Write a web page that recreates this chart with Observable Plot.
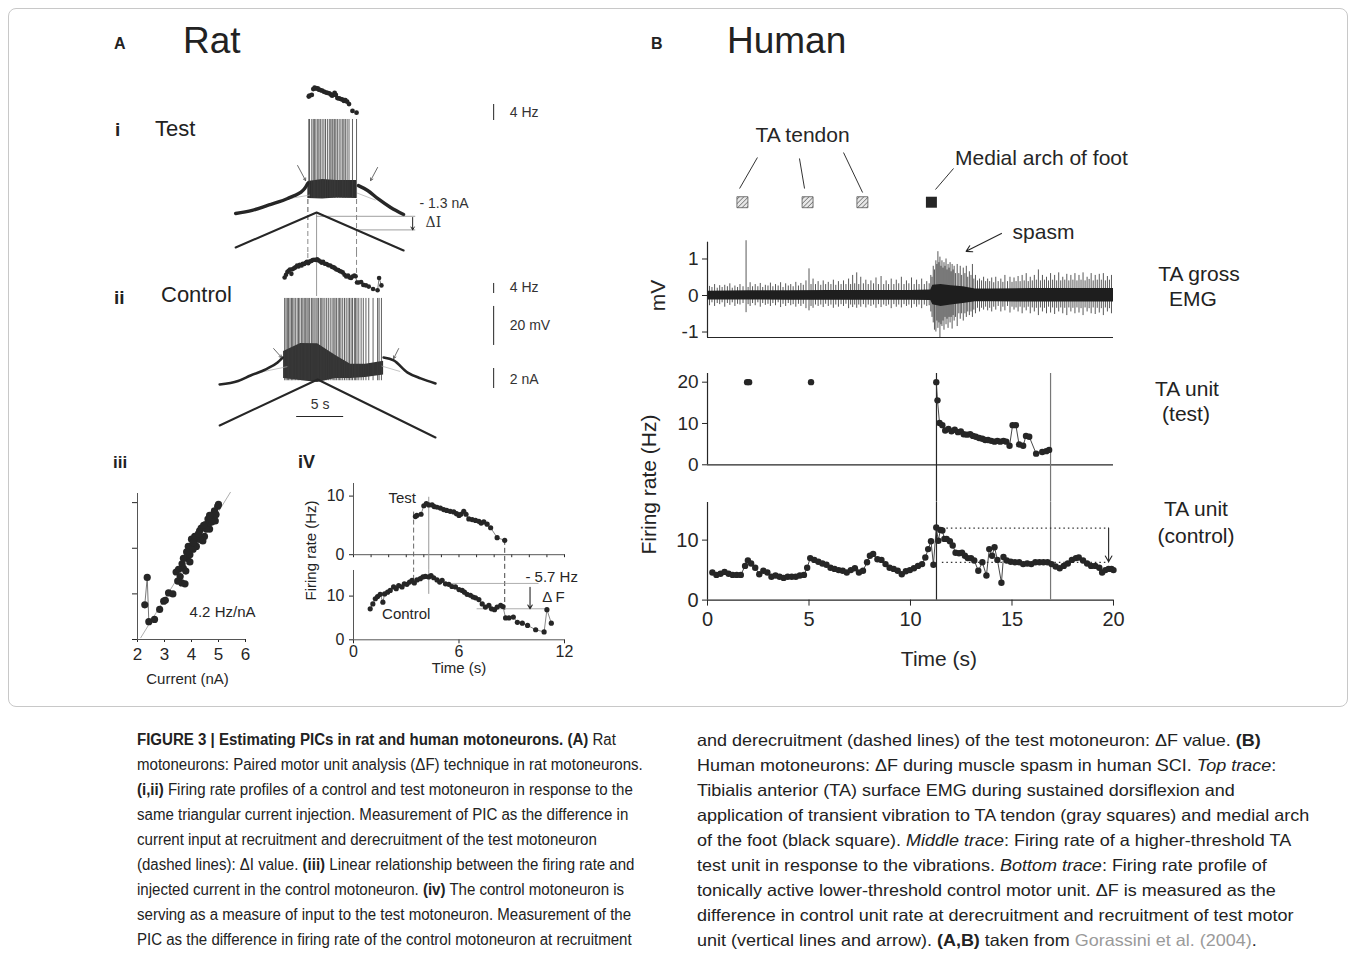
<!DOCTYPE html>
<html><head><meta charset="utf-8">
<script src="https://cdn.jsdelivr.net/npm/d3@7"></script>
<script src="https://cdn.jsdelivr.net/npm/@observablehq/plot@0.6"></script>
<style>
html,body{margin:0;padding:0;background:#fff;}
#fig{position:relative;width:1355px;height:959px;overflow:hidden;font-family:"Liberation Sans",Arial,Helvetica,sans-serif;color:#222;}
.t{position:absolute;white-space:nowrap;line-height:1;}
.cap{position:absolute;white-space:nowrap;line-height:16px;transform-origin:0 0;color:#222;}
.capL{font-size:16px;transform:scaleX(0.94);}
.capR{font-size:16.5px;transform:scaleX(1.09);}
.frame{position:absolute;left:8px;top:8px;width:1338px;height:697px;border:1px solid #c8c8c8;border-radius:8px;}
</style></head>
<body>
<svg width="0" height="0" style="position:absolute"><defs>
<pattern id="hatch" patternUnits="userSpaceOnUse" width="3.2" height="3.2" patternTransform="rotate(45)">
<rect width="3.2" height="3.2" fill="#e8e8e8"/><line x1="0" y1="0" x2="0" y2="3.2" stroke="#555" stroke-width="1.2"/></pattern></defs></svg>
<div id="fig"><div class="frame"></div></div>
<script>
// ================= DATA =================
// Panel A – rat. Instantaneous firing rates [time s, Hz]
const ratTestRate = [[3.52,6.5],[3.6,6.7],[3.84,6.9],[4.0,8.35],[4.14,8.7],[4.28,8.5],[4.47,8.5],[4.6,8.2],[4.75,8.1],[4.94,7.95],[5.13,7.7],[5.3,7.55],[5.5,7.4],[5.7,7.3],[5.86,7.0],[6.0,6.7],[6.1,6.9],[6.27,7.4],[6.4,6.9],[6.56,6.1],[6.75,6.0],[6.94,5.85],[7.13,5.7],[7.26,5.4],[7.41,5.6],[7.6,5.2],[7.8,4.6],[8.17,2.9],[8.6,2.45]];
const ratControlRate = [[0.95,7.1],[1.1,8.2],[1.24,9.4],[1.37,9.9],[1.52,10.4],[1.67,8.6],[1.77,10.5],[1.94,10.9],[2.09,11.3],[2.28,12.1],[2.43,11.7],[2.57,12.4],[2.76,12.1],[2.89,12.8],[3.04,12.7],[3.19,13.2],[3.33,13.6],[3.46,13.0],[3.61,13.7],[3.8,14.0],[3.95,14.4],[4.09,14.5],[4.28,14.4],[4.41,14.7],[4.56,14.2],[4.75,13.7],[4.9,13.2],[5.04,13.6],[5.23,12.8],[5.42,12.7],[5.6,12.2],[5.8,12.1],[6.0,11.5],[6.18,11.3],[6.31,10.9],[6.46,10.4],[6.65,10.2],[6.8,9.8],[6.94,9.6],[7.13,9.2],[7.32,8.2],[7.5,7.5],[7.7,7.9],[7.85,7.1],[8.02,6.9],[8.17,7.5],[8.37,7.9],[8.5,7.6],[8.65,5.0],[8.84,5.0],[9.09,5.2],[9.32,4.0],[9.6,3.8],[9.9,3.3],[10.36,2.3],[10.84,1.8],[11.0,6.9],[11.25,3.8]];
// Recruitment / derecruitment of the test unit (s), peak of ramp (s)
const ratRecruitT = 3.42, ratDerecruitT = 8.6, ratPeakT = 4.35;
// Triangular current ramps [s, nA]
const ratTestRamp = [[-4.26,0.3],[4.35,3.8],[13.61,0.0]];
const ratControlRamp = [[-5.96,1.5],[4.46,6.1],[17.0,0.3]];
const ratRecruitI = 3.42, ratDerecruitI = 2.06; // nA
// Membrane potential (relative mV)
const ratTestVmPre = [[-4.26,3.6],[-2.5,5.2],[-0.86,7.7],[0.3,9.5],[1.27,11.3],[2.0,12.8],[2.65,14.4],[3.1,16.5],[3.4,19.0]];
const ratTestVmBand = [[3.42,11.3,20.0],[5.0,11.0,21.0],[6.5,11.5,20.5],[8.6,11.3,20.5]];
const ratTestVmPost = [[8.8,17.9],[9.78,15.4],[10.84,11.3],[12.23,6.7],[13.61,3.1]];
const ratTestPassive = [[[1.0,10.9],[3.6,13.0]],[[8.7,14.0],[10.6,10.5]]];
const ratTestSpikePeak = 51.8, ratTestTrough = 11.3;
const ratCtrlVmPre = [[-5.96,3.1],[-4,4.9],[-2.67,7.7],[-1,11],[0.2,14.4],[0.74,16.9]];
const ratCtrlVmBand = [[0.84,6.2,20],[2.65,5.1,24.1],[4.46,4.1,24],[6.38,6.2,18],[7.97,6.2,13.4],[9.57,6.7,13.4],[11.48,8.0,15]];
const ratCtrlVmPost = [[11.48,16.9],[12.55,15.4],[14.04,9.2],[15.42,6.2],[17.0,3.6]];
const ratCtrlPassive = [[[-1.5,9.5],[1.2,12.2]],[[11.3,12.5],[13.2,9.8]]];
const ratCtrlSpikePeak = 47.2, ratCtrlTrough = 5.0;
// iii: firing rate vs injected current [nA, Hz]
const ratFI = [[2.27,3.8],[2.36,6.8],[2.42,1.95],[2.63,2.2],[2.82,3.3],[2.97,4.2],[3.03,4.3],[3.15,5.1],[3.31,5.0],[3.43,7.4],[3.58,6.9],[3.64,6.2],[3.7,7.8],[3.76,6.1],[3.79,7.5],[3.84,8.9],[3.88,10.2],[3.94,9.3],[4.0,11.0],[4.06,9.9],[4.12,11.3],[4.18,10.2],[4.24,11.0],[4.3,11.9],[4.36,12.2],[4.42,10.8],[4.48,11.3],[4.52,12.6],[4.61,13.2],[4.67,12.1],[4.73,13.3],[4.79,13.7],[4.85,14.1],[4.88,13.0],[4.97,14.6],[5.0,14.8],[4.3,11.0],[4.18,11.3],[4.55,12.1],[4.67,12.8],[4.76,12.9],[4.82,13.7],[4.91,13.7],[4.67,13.6],[4.45,12.5],[4.26,11.6],[4.09,10.7],[3.97,10.0],[3.82,9.6],[3.7,8.9],[3.65,8.3],[3.52,7.7],[3.49,6.4],[3.94,8.5],[4.06,10.6]];
const ratFIFit = {slope: 4.8, x0: 2.08, from: 2.12, to: 5.44};
// iv: control rate at test recruitment / derecruitment (Hz)
const ratCtrlAtRecruit = 12.9, ratCtrlAtDerecruit = 7.1;

// Panel B – human. Vibration markers (s)
const tendonVib = [1.72, 4.93, 7.63];
const archVib = [11.03];
// EMG dense core [s, low mV, high mV] and individual spikes [s, low, high]
const emgBand = [[0,-0.12,0.12],[2,-0.12,0.13],[4,-0.13,0.13],[6,-0.13,0.14],[8,-0.13,0.14],[10,-0.13,0.14],[11.0,-0.14,0.15],[11.1,-0.25,0.28],[11.5,-0.3,0.3],[12.0,-0.26,0.27],[12.6,-0.22,0.24],[13.2,-0.17,0.18],[14,-0.17,0.18],[16,-0.18,0.19],[18,-0.18,0.19],[20,-0.18,0.19]];
const emgSpikes = [[0.1,-0.28,0.25],[0.22,-0.2,0.22],[0.35,-0.3,0.3],[0.48,-0.22,0.2],[0.6,-0.25,0.27],[0.72,-0.2,0.22],[0.85,-0.32,0.28],[0.98,-0.22,0.24],[1.1,-0.27,0.32],[1.22,-0.2,0.2],[1.35,-0.3,0.26],[1.48,-0.24,0.22],[1.6,-0.26,0.3],[1.75,-0.22,0.24],[1.9,-0.47,1.5],[2.0,-0.25,0.22],[2.1,-0.3,0.35],[2.22,-0.22,0.24],[2.35,-0.28,0.3],[2.48,-0.2,0.24],[2.6,-0.32,0.33],[2.72,-0.22,0.22],[2.85,-0.27,0.28],[2.98,-0.24,0.26],[3.1,-0.3,0.34],[3.22,-0.22,0.24],[3.35,-0.28,0.3],[3.48,-0.2,0.26],[3.6,-0.33,0.35],[3.72,-0.24,0.22],[3.85,-0.3,0.32],[3.98,-0.22,0.26],[4.1,-0.28,0.3],[4.22,-0.25,0.24],[4.35,-0.32,0.36],[4.48,-0.24,0.26],[4.6,-0.3,0.33],[4.72,-0.24,0.28],[4.85,-0.36,0.4],[5.0,-0.42,0.73],[5.1,-0.3,0.3],[5.2,-0.35,0.45],[5.32,-0.26,0.3],[5.45,-0.3,0.38],[5.58,-0.26,0.28],[5.7,-0.33,0.4],[5.82,-0.24,0.3],[5.95,-0.3,0.36],[6.08,-0.26,0.3],[6.2,-0.35,0.42],[6.32,-0.26,0.28],[6.45,-0.32,0.38],[6.58,-0.25,0.3],[6.7,-0.3,0.4],[6.82,-0.24,0.3],[6.95,-0.36,0.45],[7.05,-0.26,0.3],[7.15,-0.33,0.55],[7.25,-0.26,0.32],[7.35,-0.35,0.62],[7.45,-0.26,0.3],[7.55,-0.32,0.5],[7.68,-0.25,0.32],[7.8,-0.34,0.42],[7.92,-0.26,0.3],[8.05,-0.3,0.4],[8.18,-0.26,0.32],[8.3,-0.35,0.48],[8.42,-0.25,0.3],[8.55,-0.33,0.52],[8.68,-0.26,0.3],[8.8,-0.3,0.4],[8.92,-0.26,0.3],[9.05,-0.36,0.45],[9.18,-0.25,0.3],[9.3,-0.32,0.42],[9.42,-0.26,0.32],[9.55,-0.34,0.5],[9.68,-0.25,0.3],[9.8,-0.3,0.4],[9.92,-0.26,0.32],[10.05,-0.35,0.48],[10.18,-0.25,0.3],[10.3,-0.32,0.42],[10.42,-0.26,0.3],[10.55,-0.36,0.45],[10.68,-0.26,0.3],[10.8,-0.3,0.38],[10.92,-0.28,0.32],[11.0,-0.45,0.55],[11.06,-0.6,0.5],[11.12,-0.75,0.8],[11.18,-0.95,0.7],[11.25,-1.0,0.95],[11.3,-0.7,0.85],[11.35,-0.9,1.2],[11.4,-0.75,0.9],[11.45,-1.15,1.05],[11.5,-0.8,0.8],[11.55,-0.85,0.95],[11.6,-0.7,0.75],[11.65,-0.95,0.9],[11.7,-0.6,0.8],[11.75,-0.8,1.0],[11.8,-0.65,0.7],[11.85,-0.9,0.85],[11.9,-0.6,0.75],[11.95,-0.75,0.9],[12.0,-0.6,0.65],[12.05,-0.92,0.85],[12.1,-0.55,0.7],[12.15,-0.7,0.8],[12.22,-0.6,0.6],[12.3,-0.85,0.85],[12.38,-0.5,0.6],[12.45,-0.65,0.8],[12.52,-0.5,0.55],[12.6,-0.7,0.75],[12.68,-0.5,0.6],[12.75,-0.6,0.8],[12.82,-0.45,0.5],[12.9,-0.55,0.65],[12.98,-0.45,0.55],[13.05,-0.6,0.85],[13.12,-0.4,0.45],[13.2,-0.5,0.55],[13.3,-0.35,0.4],[13.4,-0.45,0.45],[13.5,-0.35,0.4],[13.6,-0.4,0.5],[13.7,-0.32,0.38],[13.8,-0.42,0.45],[13.9,-0.35,0.38],[14.0,-0.45,0.48],[14.1,-0.32,0.35],[14.2,-0.4,0.5],[14.32,-0.3,0.38],[14.45,-0.45,0.45],[14.55,-0.32,0.36],[14.65,-0.42,0.55],[14.78,-0.3,0.38],[14.9,-0.48,0.5],[15.0,-0.32,0.36],[15.1,-0.4,0.48],[15.2,-0.34,0.38],[15.3,-0.45,0.52],[15.4,-0.32,0.38],[15.5,-0.5,0.55],[15.6,-0.34,0.4],[15.7,-0.42,0.6],[15.8,-0.32,0.38],[15.9,-0.5,0.5],[16.0,-0.34,0.4],[16.1,-0.45,0.55],[16.2,-0.35,0.42],[16.3,-0.55,0.7],[16.4,-0.34,0.4],[16.5,-0.45,0.55],[16.6,-0.35,0.42],[16.7,-0.5,0.5],[16.8,-0.32,0.4],[16.9,-0.48,0.6],[17.0,-0.34,0.42],[17.1,-0.52,0.55],[17.2,-0.35,0.4],[17.3,-0.45,0.62],[17.4,-0.34,0.4],[17.5,-0.5,0.5],[17.6,-0.35,0.42],[17.7,-0.55,0.58],[17.8,-0.34,0.4],[17.9,-0.45,0.55],[18.0,-0.35,0.42],[18.1,-0.5,0.6],[18.2,-0.34,0.4],[18.3,-0.48,0.55],[18.4,-0.36,0.42],[18.5,-0.55,0.62],[18.6,-0.34,0.4],[18.7,-0.45,0.5],[18.8,-0.36,0.44],[18.9,-0.5,0.6],[19.0,-0.34,0.4],[19.1,-0.52,0.55],[19.2,-0.35,0.42],[19.3,-0.48,0.58],[19.4,-0.36,0.42],[19.5,-0.55,0.6],[19.6,-0.34,0.4],[19.7,-0.45,0.52],[19.8,-0.36,0.42],[19.9,-0.5,0.55]];
// TA test unit firing rate [s, Hz]
const humanTestIsolated = [[1.95,20],[2.05,20],[5.1,20]];
const humanTestRate = [[11.27,20],[11.33,15.6],[11.43,10.1],[11.57,9.6],[11.71,8.3],[11.87,8.7],[12.02,8.1],[12.18,8.5],[12.34,7.9],[12.48,8.1],[12.62,7.4],[12.78,7.3],[12.94,7.4],[13.08,7.0],[13.22,6.8],[13.38,6.5],[13.54,6.3],[13.68,6.0],[13.82,6.0],[13.98,5.8],[14.14,5.6],[14.28,5.8],[14.42,5.6],[14.58,5.8],[14.72,5.6],[14.88,4.6],[15.03,9.6],[15.19,9.6],[15.35,4.9],[15.55,4.6],[15.69,7.0],[15.85,6.8],[16.19,2.7],[16.49,3.1],[16.69,3.3],[16.83,3.6]];
// TA control unit firing rate [s, Hz]
const humanControlRate = [[0.24,4.6],[0.44,4.2],[0.64,4.4],[0.84,4.7],[1.04,4.4],[1.24,4.2],[1.44,4.2],[1.64,4.2],[1.85,5.7],[1.99,6.6],[2.15,6.1],[2.35,5.4],[2.55,4.3],[2.75,4.9],[2.95,4.6],[3.15,3.9],[3.35,4.1],[3.55,3.9],[3.75,3.7],[3.95,3.9],[4.15,3.9],[4.35,3.9],[4.55,4.1],[4.75,4.2],[4.91,5.4],[5.06,7.0],[5.26,6.7],[5.46,6.4],[5.66,6.1],[5.86,5.9],[6.06,5.4],[6.26,5.2],[6.46,5.0],[6.66,4.9],[6.86,4.6],[7.06,5.0],[7.26,5.3],[7.46,4.6],[7.66,4.9],[7.86,6.3],[8.0,7.4],[8.16,7.7],[8.37,6.8],[8.57,6.7],[8.77,6.0],[8.97,5.4],[9.17,5.2],[9.37,4.9],[9.57,4.3],[9.77,4.8],[9.97,5.0],[10.17,5.3],[10.37,5.7],[10.57,6.0],[10.73,7.1],[10.87,8.5],[11.01,9.8],[11.13,5.9],[11.27,12.1],[11.37,9.9],[11.47,11.7],[11.57,11.6],[11.67,10.2],[11.78,10.2],[11.94,9.8],[12.08,9.1],[12.22,7.9],[12.39,7.8],[12.54,7.9],[12.68,7.4],[12.82,7.0],[12.98,7.0],[13.14,6.6],[13.34,4.9],[13.54,6.3],[13.74,4.1],[13.88,8.5],[14.02,7.4],[14.14,8.8],[14.28,6.7],[14.48,2.9],[14.58,7.2],[14.74,6.6],[14.94,6.4],[15.15,6.3],[15.35,6.3],[15.55,6.0],[15.75,6.1],[15.95,6.0],[16.15,6.3],[16.35,6.3],[16.55,6.3],[16.75,6.3],[16.95,6.0],[17.15,5.6],[17.35,5.3],[17.55,5.7],[17.75,6.1],[17.95,6.7],[18.15,7.0],[18.29,7.1],[18.5,6.6],[18.7,6.1],[18.9,5.7],[19.1,5.7],[19.3,5.4],[19.44,4.6],[19.6,5.0],[19.76,5.2],[19.9,5.2],[20.0,5.0]];
const humanRecruitT = 11.28, humanDerecruitT = 16.9;
const humanCtrlAtRecruit = 12.0, humanCtrlAtDerecruit = 6.3;

// Caption
const captionLeft = [
  [{b:"FIGURE 3 | Estimating PICs in rat and human motoneurons. (A)"}, " Rat"],
  ["motoneurons: Paired motor unit analysis (ΔF) technique in rat motoneurons."],
  [{b:"(i,ii)"}, " Firing rate profiles of a control and test motoneuron in response to the"],
  ["same triangular current injection. Measurement of PIC as the difference in"],
  ["current input at recruitment and derecruitment of the test motoneuron"],
  ["(dashed lines): ΔI value. ", {b:"(iii)"}, " Linear relationship between the firing rate and"],
  ["injected current in the control motoneuron. ", {b:"(iv)"}, " The control motoneuron is"],
  ["serving as a measure of input to the test motoneuron. Measurement of the"],
  ["PIC as the difference in firing rate of the control motoneuron at recruitment"]
];
const captionRight = [
  ["and derecruitment (dashed lines) of the test motoneuron: ΔF value. ", {b:"(B)"}],
  ["Human motoneurons: ΔF during muscle spasm in human SCI. ", {i:"Top trace"}, ":"],
  ["Tibialis anterior (TA) surface EMG during sustained dorsiflexion and"],
  ["application of transient vibration to TA tendon (gray squares) and medial arch"],
  ["of the foot (black square). ", {i:"Middle trace"}, ": Firing rate of a higher-threshold TA"],
  ["test unit in response to the vibrations. ", {i:"Bottom trace"}, ": Firing rate profile of"],
  ["tonically active lower-threshold control motor unit. ΔF is measured as the"],
  ["difference in control unit rate at derecruitment and recruitment of test motor"],
  ["unit (vertical lines and arrow). ", {b:"(A,B)"}, " taken from ", {g:"Gorassini et al. (2004)"}, "."]
];

// ================= HELPERS =================
const fig = document.getElementById("fig");
const FONT = '"Liberation Sans", Arial, Helvetica, sans-serif';
const INK = "#262626";
const plain = d => String(d);
function place(el, left, top) {
  el.style.position = "absolute"; el.style.left = left + "px"; el.style.top = top + "px";
  fig.appendChild(el); return el;
}
function style(fs) { return {fontFamily: FONT, fontSize: fs + "px", background: "transparent", overflow: "visible", color: INK}; }
function label(txt, x, yc, size, o = {}) {
  const d = document.createElement("div");
  d.className = "t"; d.textContent = txt;
  d.style.fontSize = size + "px";
  if (o.weight) d.style.fontWeight = o.weight;
  d.style.left = x + "px"; d.style.top = (yc - 0.5 * size) + "px";
  let tr = "";
  if (o.anchor === "middle") tr = "translateX(-50%)";
  if (o.anchor === "end") tr = "translateX(-100%)";
  if (o.rotate) tr = "translateX(-50%) rotate(-90deg)";
  d.style.transform = tr;
  fig.appendChild(d); return d;
}
const X = d => d[0], Y = d => d[1];

// ================= TITLES =================
label("A", 114, 44, 16, {weight: "bold"});
label("Rat", 183, 40, 37);
label("B", 651, 44, 16, {weight: "bold"});
label("Human", 727, 40, 37);
label("i", 115, 129, 19, {weight: "bold"});
label("Test", 155, 129, 22);
label("ii", 114, 297, 19, {weight: "bold"});
label("Control", 161, 295, 22);
label("iii", 113, 462, 17, {weight: "bold"});
label("iV", 298, 462, 18, {weight: "bold"});

// ================= PANEL A i / ii =================
const AX = {domain: [-8, 30.3], axis: null};
const scaleBarT = 23.18, scaleLabelT = 24.9;
function row(top, height, yDomain, marks) {
  return place(Plot.plot({width: 360, height, margin: 0, x: AX, y: {domain: yDomain, axis: null}, style: style(14), marks}), 200, top);
}
const dashed = {stroke: "#8a8a8a", strokeWidth: 1, strokeDasharray: "5,3"};
const guide = {stroke: "#9a9a9a", strokeWidth: 1};

// i: test firing rate
row(78, 44, [0, 11], [
  Plot.dot(ratTestRate, {x: X, y: Y, r: 2.4, fill: INK}),
  Plot.ruleX([scaleBarT], {y1: 0.5, y2: 4.5, stroke: "#444", strokeWidth: 1.2}),
  Plot.text(["4 Hz"], {x: scaleLabelT, y: 2.5, text: d => d, textAnchor: "start", fontSize: 14, fill: "#333"})
]);
// i: test membrane potential
row(115, 105, [0, 53.85], [
  Plot.ruleX([ratRecruitT, ratDerecruitT], {y1: 0, y2: ratTestTrough, ...dashed}),
  Plot.areaY(ratTestVmBand, {x: X, y1: d => d[1], y2: d => d[2], fill: "#2e2e2e"}),
  Plot.ruleX(ratTestRate, {x: X, y1: ratTestTrough, y2: ratTestSpikePeak, stroke: "#3c3c3c", strokeWidth: 0.8}),
  ...ratTestPassive.map(seg => Plot.line(seg, {x: X, y: Y, stroke: "#aaa", strokeWidth: 0.7})),
  Plot.line(ratTestVmPre, {x: X, y: Y, stroke: INK, strokeWidth: 3.4, curve: "monotone-x"}),
  Plot.line(ratTestVmPost, {x: X, y: Y, stroke: INK, strokeWidth: 3.4, curve: "monotone-x"}),
  Plot.arrow([{x1: 2.33, y1: 28.2, x2: 3.18, y2: 20.5}, {x1: 10.84, y1: 27.2, x2: 10.1, y2: 20.5}],
    {x1: "x1", y1: "y1", x2: "x2", y2: "y2", stroke: "#444", strokeWidth: 0.8, headLength: 5})
]);
// i: test current ramp
row(198, 54, [-0.2, 5.2], [
  Plot.ruleX([ratRecruitT, ratDerecruitT], {y1: -0.2, y2: 5.2, ...dashed}),
  Plot.ruleX([ratPeakT], {y1: -0.2, y2: ratTestRamp[1][1], ...guide}),
  Plot.ruleY([ratRecruitI], {x1: ratPeakT, x2: 14.9, stroke: "#888", strokeWidth: 0.8}),
  Plot.ruleY([ratDerecruitI], {x1: ratDerecruitT, x2: 14.9, stroke: "#888", strokeWidth: 0.8}),
  Plot.arrow([0], {x1: 14.57, x2: 14.57, y1: 3.3, y2: ratDerecruitI, stroke: INK, strokeWidth: 1, headLength: 5}),
  Plot.line(ratTestRamp, {x: X, y: Y, stroke: INK, strokeWidth: 2}),
  Plot.text(["- 1.3 nA"], {x: 15.3, y: 4.7, text: d => d, textAnchor: "start", fontSize: 14, fill: "#333"}),
  Plot.text(["ΔI"], {x: 15.95, y: 2.8, text: d => d, textAnchor: "start", fontSize: 14, fill: "#333", fontFamily: "DejaVu Serif, serif"})
]);
// ii: control firing rate
row(252, 44, [-0.83, 17.5], [
  Plot.ruleX([ratRecruitT], {y1: 15, y2: 17.5, ...dashed}),
  Plot.ruleX([ratDerecruitT], {y1: 8.8, y2: 17.5, ...dashed}),
  Plot.ruleX([ratPeakT], {y1: -0.83, y2: 17.5, ...guide}),
  Plot.line(ratControlRate, {x: X, y: Y, stroke: "#444", strokeWidth: 0.7}),
  Plot.dot(ratControlRate, {x: X, y: Y, r: 2.3, fill: INK}),
  Plot.ruleX([scaleBarT], {y1: 0.42, y2: 4.6, stroke: "#444", strokeWidth: 1.2}),
  Plot.text(["4 Hz"], {x: scaleLabelT, y: 2.9, text: d => d, textAnchor: "start", fontSize: 14, fill: "#333"})
]);
// ii: control membrane potential
row(296, 94, [0, 48.2], [
  Plot.areaY(ratCtrlVmBand, {x: X, y1: d => d[1], y2: d => d[2], fill: "#333"}),
  Plot.ruleX(ratControlRate, {x: X, y1: ratCtrlTrough, y2: ratCtrlSpikePeak, stroke: "#3a3a3a", strokeWidth: 0.8}),
  ...ratCtrlPassive.map(seg => Plot.line(seg, {x: X, y: Y, stroke: "#aaa", strokeWidth: 0.7})),
  Plot.line(ratCtrlVmPre, {x: X, y: Y, stroke: INK, strokeWidth: 2.6, curve: "monotone-x"}),
  Plot.line(ratCtrlVmPost, {x: X, y: Y, stroke: INK, strokeWidth: 2.6, curve: "monotone-x"}),
  Plot.arrow([{x1: -0.22, y1: 21.5, x2: 0.63, y2: 16.9}, {x1: 13.08, y1: 21.5, x2: 12.55, y2: 16.4}],
    {x1: "x1", y1: "y1", x2: "x2", y2: "y2", stroke: "#444", strokeWidth: 0.8, headLength: 5}),
  Plot.ruleX([scaleBarT], {y1: 23.1, y2: 43.1, stroke: "#444", strokeWidth: 1.2}),
  Plot.text(["20 mV"], {x: scaleLabelT, y: 33.3, text: d => d, textAnchor: "start", fontSize: 14, fill: "#333"})
]);
// ii: control current ramp
row(360, 80, [0, 8], [
  Plot.line(ratControlRamp, {x: X, y: Y, stroke: INK, strokeWidth: 2}),
  Plot.ruleX([scaleBarT], {y1: 5.2, y2: 7.2, stroke: "#444", strokeWidth: 1.2}),
  Plot.text(["2 nA"], {x: scaleLabelT, y: 6.1, text: d => d, textAnchor: "start", fontSize: 14, fill: "#333"}),
  Plot.ruleY([2.4], {x1: 2.23, x2: 7.23, stroke: INK, strokeWidth: 1.2}),
  Plot.text(["5 s"], {x: 4.73, y: 3.6, text: d => d, fontSize: 14, fill: "#333"})
]);

// ================= PANEL A iii =================
place(Plot.plot({
  width: 150, height: 214, marginLeft: 30, marginRight: 12, marginTop: 13, marginBottom: 55,
  x: {domain: [2, 6]}, y: {domain: [0, 16]}, style: style(17),
  marks: [
    Plot.axisX({ticks: [2, 3, 4, 5, 6], tickSize: 3, tickPadding: 5, tickFormat: plain, label: null}),
    Plot.axisY({ticks: [0, 5, 10, 15], tickSize: 5, tickFormat: () => "", label: null}),
    Plot.ruleX([2], {stroke: "#555"}), Plot.ruleY([0], {stroke: "#555"}),
    Plot.line([ratFIFit.from, ratFIFit.to].map(c => [c, ratFIFit.slope * (c - ratFIFit.x0)]), {x: X, y: Y, stroke: "#999", strokeWidth: 0.8}),
    Plot.line(ratFI.slice(0, 4), {x: X, y: Y, stroke: "#555", strokeWidth: 0.8}),
    Plot.dot(ratFI, {x: X, y: Y, r: 3.6, fill: INK}),
    Plot.text(["4.2 Hz/nA"], {x: 5.15, y: 3.0, text: d => d, fontSize: 15}),
    Plot.text(["Current (nA)"], {frameAnchor: "bottom", dy: 44, dx: -4, text: d => d, fontSize: 15})
  ]
}), 107, 480);

// ================= PANEL A iv =================
const ivUpperFrame = 71.2, ivUpperMax = 12.15, ivGap = 15.7;
const ivGapHz = ivGap / (ivUpperFrame / ivUpperMax);
place(Plot.plot({
  width: 266, height: 8 + ivUpperFrame + ivGap, marginLeft: 30, marginRight: 25, marginTop: 8, marginBottom: ivGap,
  x: {domain: [0, 12]}, y: {domain: [0, ivUpperMax]}, style: style(16),
  marks: [
    Plot.axisX({ticks: d3.range(0, 13), tickSize: 3, tickFormat: () => "", label: null}),
    Plot.axisY({ticks: [0, 10], tickSize: 4, tickFormat: plain, label: null}),
    Plot.ruleX([0], {stroke: "#555"}), Plot.ruleY([0], {stroke: "#555"}),
    Plot.ruleX([ratRecruitT], {y1: 7.27, y2: -ivGapHz, stroke: "#666", strokeDasharray: "5,3"}),
    Plot.ruleX([ratDerecruitT], {y1: 2.45, y2: -ivGapHz, stroke: "#444", strokeDasharray: "5,3"}),
    Plot.ruleX([ratPeakT - 0.07], {y1: 9.8, y2: -ivGapHz, ...guide}),
    Plot.line(ratTestRate, {x: X, y: Y, stroke: "#555", strokeWidth: 0.7}),
    Plot.dot(ratTestRate, {x: X, y: Y, r: 2.6, fill: INK}),
    Plot.text(["Test"], {x: 2.77, y: 9.6, text: d => d, fontSize: 15})
  ]
}), 323, 475);
place(Plot.plot({
  width: 266, height: 8 + 69.3 + 50, marginLeft: 30, marginRight: 25, marginTop: 8, marginBottom: 50,
  x: {domain: [0, 12]}, y: {domain: [0, 15.86]}, style: style(16),
  marks: [
    Plot.axisX({ticks: [0, 6, 12], tickSize: 4, tickPadding: 2, tickFormat: plain, label: null}),
    Plot.axisY({ticks: [0, 10], tickSize: 4, tickFormat: plain, label: null}),
    Plot.ruleX([0], {stroke: "#555"}), Plot.ruleY([0], {stroke: "#555"}),
    Plot.ruleX([ratRecruitT], {y1: 13.6, y2: 15.86, stroke: "#666", strokeDasharray: "5,3"}),
    Plot.ruleX([ratDerecruitT], {y1: 6.7, y2: 15.86, stroke: "#444", strokeDasharray: "5,3"}),
    Plot.ruleX([ratPeakT - 0.07], {y1: 10.4, y2: 15.86, ...guide}),
    Plot.ruleY([ratCtrlAtRecruit], {x1: 5.51, x2: 10.55, stroke: "#999", strokeWidth: 0.8}),
    Plot.ruleY([ratCtrlAtDerecruit], {x1: 7.03, x2: 11.03, stroke: "#999", strokeWidth: 0.8}),
    Plot.arrow([0], {x1: 10.04, x2: 10.04, y1: 12.0, y2: ratCtrlAtDerecruit, stroke: INK, strokeWidth: 1.1, headLength: 6}),
    Plot.line(ratControlRate, {x: X, y: Y, stroke: "#555", strokeWidth: 0.7}),
    Plot.dot(ratControlRate, {x: X, y: Y, r: 2.6, fill: INK}),
    Plot.text(["- 5.7 Hz"], {x: 9.78, y: 14.3, text: d => d, textAnchor: "start", fontSize: 15}),
    Plot.text(["Δ F"], {x: 10.73, y: 9.75, text: d => d, textAnchor: "start", fontSize: 15}),
    Plot.text(["Control"], {x: 3.0, y: 5.8, text: d => d, fontSize: 15}),
    Plot.text(["Time (s)"], {frameAnchor: "bottom", dy: 33, text: d => d, fontSize: 15})
  ]
}), 323, 562);
label("Firing rate (Hz)", 310, 550, 15, {rotate: true});

// ================= PANEL B =================
const BX = {domain: [0, 20]};
const bLeft = 620, bW = 513, bML = 87, bMR = 20;
// markers
place(Plot.plot({
  width: bW, height: 90, marginLeft: bML, marginRight: bMR, marginTop: 0, marginBottom: 0,
  x: {...BX, axis: null}, y: {domain: [0, 1], axis: null}, style: style(21),
  marks: [
    Plot.link([{a: 1.58, b: 2.46, p: 0.244, q: 0.589}, {a: 4.78, b: 4.53, p: 0.244, q: 0.578}, {a: 7.64, b: 6.7, p: 0.2, q: 0.644}, {a: 11.23, b: 12.12, p: 0.233, q: 0.467}],
      {x1: "a", x2: "b", y1: "p", y2: "q", stroke: "#333", strokeWidth: 1}),
    Plot.dot(tendonVib, {x: d => d, y: 0.092, symbol: "square", r: 6.2, fill: "url(#hatch)", stroke: "#555", strokeWidth: 0.8}),
    Plot.dot(archVib, {x: d => d, y: 0.092, symbol: "square", r: 6.2, fill: INK}),
    Plot.text(["TA tendon"], {x: 4.68, y: 0.833, text: d => d, fontSize: 21}),
    Plot.text(["Medial arch of foot"], {x: 16.45, y: 0.578, text: d => d, fontSize: 21})
  ]
}), bLeft, 120);

// EMG
place(Plot.plot({
  width: bW, height: 31.7 + 95.3 + 5, marginLeft: bML, marginRight: bMR, marginTop: 31.7, marginBottom: 5,
  x: {...BX, axis: null}, y: {domain: [-1.15, 1.46]}, style: style(19),
  marks: [
    Plot.axisY({ticks: [-1, 0, 1], tickSize: 5, tickPadding: 4, tickFormat: plain, label: null}),
    Plot.ruleX(emgSpikes, {x: X, y1: d => d[1], y2: d => d[2], stroke: "#222", strokeWidth: 0.75}),
    Plot.areaY(emgBand, {x: X, y1: d => d[1], y2: d => d[2], fill: "#1e1e1e"}),
    Plot.ruleX([0], {stroke: INK, strokeWidth: 1.2}), Plot.ruleY([-1.15], {stroke: INK, strokeWidth: 1.2}),
    Plot.arrow([0], {x1: 14.48, y1: 1.7, x2: 12.74, y2: 1.21, stroke: INK, strokeWidth: 1.1, headLength: 9}),
    Plot.text(["spasm"], {x: 16.55, y: 1.73, text: d => d, fontSize: 21}),
    Plot.text(["mV"], {x: 0, y: 0, dx: -49, rotate: -90, text: d => d, fontSize: 21})
  ]
}), bLeft, 210);

// TA test unit
const bTestFrame = 91.3, bTestMax = 22.1, bTestGap = 37.4;
const bTestGapHz = bTestGap / (bTestFrame / bTestMax);
place(Plot.plot({
  width: bW, height: 8 + bTestFrame + bTestGap, marginLeft: bML, marginRight: bMR, marginTop: 8, marginBottom: bTestGap,
  x: {...BX, axis: null}, y: {domain: [0, bTestMax]}, style: style(19),
  marks: [
    Plot.axisY({ticks: [0, 10, 20], tickSize: 5, tickPadding: 4, tickFormat: plain, label: null}),
    Plot.ruleX([0], {stroke: INK, strokeWidth: 1.2}), Plot.ruleY([0], {stroke: INK, strokeWidth: 1.2}),
    Plot.ruleX([humanRecruitT], {y1: bTestMax, y2: -bTestGapHz, stroke: INK, strokeWidth: 1.2}),
    Plot.ruleX([humanDerecruitT], {y1: bTestMax, y2: -bTestGapHz, stroke: "#777", strokeWidth: 1.2}),
    Plot.line(humanTestRate, {x: X, y: Y, stroke: "#333", strokeWidth: 0.9}),
    Plot.dot(humanTestRate, {x: X, y: Y, r: 3.2, fill: INK}),
    Plot.dot(humanTestIsolated, {x: X, y: Y, r: 3.2, fill: INK})
  ]
}), bLeft, 365);

// TA control unit
place(Plot.plot({
  width: bW, height: 8 + 97.6 + 70, marginLeft: bML, marginRight: bMR, marginTop: 8, marginBottom: 70,
  x: BX, y: {domain: [0, 16.27]}, style: style(20),
  marks: [
    Plot.axisX({ticks: [0, 5, 10, 15, 20], tickSize: 6, tickPadding: 6, tickFormat: plain, label: null}),
    Plot.axisY({ticks: [0, 10], tickSize: 5, tickPadding: 4, tickFormat: plain, label: null}),
    Plot.ruleX([0], {stroke: INK, strokeWidth: 1.2}), Plot.ruleY([0], {stroke: INK, strokeWidth: 1.2}),
    Plot.ruleX([humanRecruitT], {stroke: INK, strokeWidth: 1.2}),
    Plot.ruleX([humanDerecruitT], {stroke: "#777", strokeWidth: 1.2}),
    Plot.ruleY([humanCtrlAtRecruit, humanCtrlAtDerecruit], {x1: 11.57, x2: 19.8, stroke: "#333", strokeWidth: 1.2, strokeDasharray: "1.5,3"}),
    Plot.arrow([0], {x1: 19.76, x2: 19.76, y1: humanCtrlAtRecruit, y2: humanCtrlAtDerecruit + 0.1, stroke: INK, strokeWidth: 1.1, headLength: 9}),
    Plot.line(humanControlRate, {x: X, y: Y, stroke: "#333", strokeWidth: 0.9}),
    Plot.dot(humanControlRate, {x: X, y: Y, r: 3.2, fill: INK}),
    Plot.text(["Time (s)"], {x: 11.4, y: 0, dy: 59, text: d => d, fontSize: 21})
  ]
}), bLeft, 493.7);

label("Firing rate (Hz)", 648, 484, 21, {rotate: true});
label("TA gross", 1199, 273, 21, {anchor: "middle"});
label("EMG", 1193, 298, 21, {anchor: "middle"});
label("TA unit", 1187, 388, 21, {anchor: "middle"});
label("(test)", 1186, 413, 21, {anchor: "middle"});
label("TA unit", 1196, 508, 21, {anchor: "middle"});
label("(control)", 1196, 535, 21, {anchor: "middle"});

// ================= CAPTION =================
function captionCol(lines, x, cls) {
  lines.forEach((segs, i) => {
    const d = document.createElement("div");
    d.className = "cap " + cls;
    d.style.left = x + "px"; d.style.top = (732 + i * 25) + "px";
    segs.forEach(s => {
      const sp = document.createElement("span");
      if (typeof s === "string") sp.textContent = s;
      else if (s.b) { sp.textContent = s.b; sp.style.fontWeight = "bold"; }
      else if (s.i) { sp.textContent = s.i; sp.style.fontStyle = "italic"; }
      else if (s.g) { sp.textContent = s.g; sp.style.color = "#9a9a9a"; }
      d.appendChild(sp);
    });
    fig.appendChild(d);
  });
}
captionCol(captionLeft, 137, "capL");
captionCol(captionRight, 697, "capR");
</script>
</body></html>
